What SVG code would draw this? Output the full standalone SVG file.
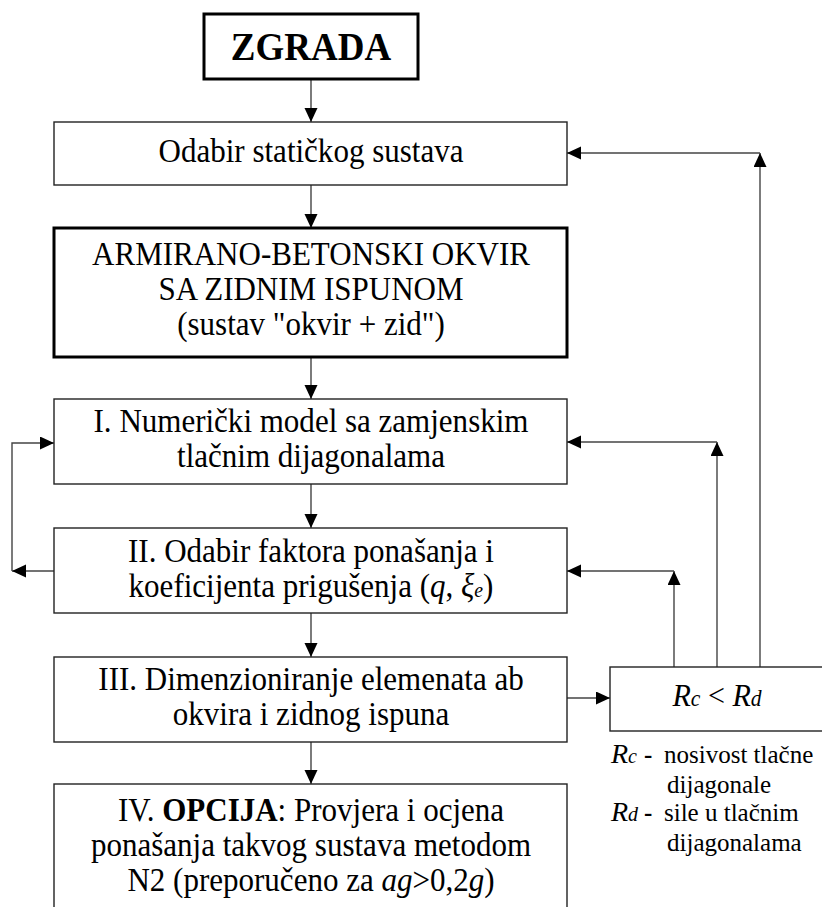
<svg xmlns="http://www.w3.org/2000/svg" width="822" height="907" viewBox="0 0 822 907">
<style>
text{font-family:"Liberation Serif","Times New Roman",serif;fill:#000}
.t{font-size:33px;text-anchor:middle}
.lg{font-size:25px}
.box{fill:#fff;stroke:#222;stroke-width:1.4}
.thick{fill:#fff;stroke:#000;stroke-width:3}
.c{fill:none;stroke:#444;stroke-width:1.4}
.i{font-style:italic}
</style>
<defs>
<marker id="ah" markerUnits="userSpaceOnUse" markerWidth="15" markerHeight="14" refX="14" refY="6.5" orient="auto">
<path d="M0,0 L14,6.5 L0,13 Z" fill="#000"/>
</marker>
</defs>
<g id="connectors">
<path class="c" d="M311,79 V122" marker-end="url(#ah)"/>
<path class="c" d="M311,185 V228" marker-end="url(#ah)"/>
<path class="c" d="M311,357 V399" marker-end="url(#ah)"/>
<path class="c" d="M311,484 V528" marker-end="url(#ah)"/>
<path class="c" d="M311,613 V657" marker-end="url(#ah)"/>
<path class="c" d="M311,742 V784" marker-end="url(#ah)"/>
<path class="c" d="M567,698 H610" marker-end="url(#ah)"/>
<path class="c" d="M54,571 H12" marker-end="url(#ah)"/>
<path class="c" d="M12,571 V443 H54" marker-end="url(#ah)"/>
<path class="c" d="M674,667 V571" marker-end="url(#ah)"/>
<path class="c" d="M674,571 H567" marker-end="url(#ah)"/>
<path class="c" d="M717,667 V442" marker-end="url(#ah)"/>
<path class="c" d="M717,442 H567" marker-end="url(#ah)"/>
<path class="c" d="M760,667 V153" marker-end="url(#ah)"/>
<path class="c" d="M760,153 H567" marker-end="url(#ah)"/>
</g>
<g id="zgrada">
<rect class="thick" x="204" y="14" width="214" height="65"/>
<g transform="translate(311 0) scale(0.925 1)">
<text x="0" y="60" style="font-size:40px;font-weight:bold;text-anchor:middle">ZGRADA</text>
</g>
</g>
<g id="odabir">
<rect class="box" x="54" y="122" width="513" height="63"/>
<g transform="translate(311 0) scale(0.94 1)">
<text class="t" x="0" y="162">Odabir statičkog sustava</text>
</g>
</g>
<g id="okvir">
<rect class="thick" x="54" y="228" width="513" height="129"/>
<g transform="translate(311 0) scale(0.94 1)">
<text class="t" x="0" y="265">ARMIRANO-BETONSKI OKVIR</text>
<text class="t" x="0" y="300">SA ZIDNIM ISPUNOM</text>
<text class="t" x="0" y="335">(sustav "okvir + zid")</text>
</g>
</g>
<g id="korak1">
<rect class="box" x="54" y="399" width="513" height="85"/>
<g transform="translate(311 0) scale(0.94 1)">
<text class="t" x="0" y="432">I. Numerički model sa zamjenskim</text>
<text class="t" x="0" y="467">tlačnim dijagonalama</text>
</g>
</g>
<g id="korak2">
<rect class="box" x="54" y="528" width="513" height="85"/>
<g transform="translate(311 0) scale(0.94 1)">
<text class="t" x="0" y="562">II. Odabir faktora ponašanja i</text>
<text class="t" x="0" y="597">koeficijenta prigušenja (<tspan class="i">q</tspan>, <tspan class="i">ξ</tspan><tspan class="i" style="font-size:21px">e</tspan>)</text>
</g>
</g>
<g id="korak3">
<rect class="box" x="54" y="657" width="513" height="85"/>
<g transform="translate(311 0) scale(0.94 1)">
<text class="t" x="0" y="690">III. Dimenzioniranje elemenata ab</text>
<text class="t" x="0" y="725">okvira i zidnog ispuna</text>
</g>
</g>
<g id="korak4">
<rect class="box" x="54" y="784" width="513" height="140"/>
<g transform="translate(311 0) scale(0.94 1)">
<text class="t" x="0" y="821">IV. <tspan style="font-weight:bold">OPCIJA</tspan>: Provjera i ocjena</text>
<text class="t" x="0" y="856">ponašanja takvog sustava metodom</text>
<text class="t" x="0" y="891">N2 (preporučeno za <tspan class="i">ag</tspan>&gt;0,2<tspan class="i">g</tspan>)</text>
</g>
</g>
<g id="uvjet">
<rect class="box" x="610" y="667" width="230" height="64"/>
<g transform="translate(717 0) scale(0.94 1)">
<text x="0" y="706" style="font-size:32px;text-anchor:middle"><tspan class="i">R</tspan><tspan class="i" style="font-size:23px">c</tspan> &lt; <tspan class="i">R</tspan><tspan class="i" style="font-size:23px">d</tspan></text>
</g>
</g>
<g id="legenda">
<text x="611" y="763" style="font-size:28px"><tspan class="i">R</tspan><tspan class="i" style="font-size:20px">c</tspan></text>
<text class="lg" x="644" y="763" style="font-weight:bold">-</text>
<text class="lg" x="664" y="763">nosivost tlačne</text>
<text class="lg" x="667" y="793">dijagonale</text>
<text x="611" y="821" style="font-size:28px"><tspan class="i">R</tspan><tspan class="i" style="font-size:20px">d</tspan></text>
<text class="lg" x="644" y="821" style="font-weight:bold">-</text>
<text class="lg" x="664" y="821">sile u tlačnim</text>
<text class="lg" x="667" y="851">dijagonalama</text>
</g>
</svg>
